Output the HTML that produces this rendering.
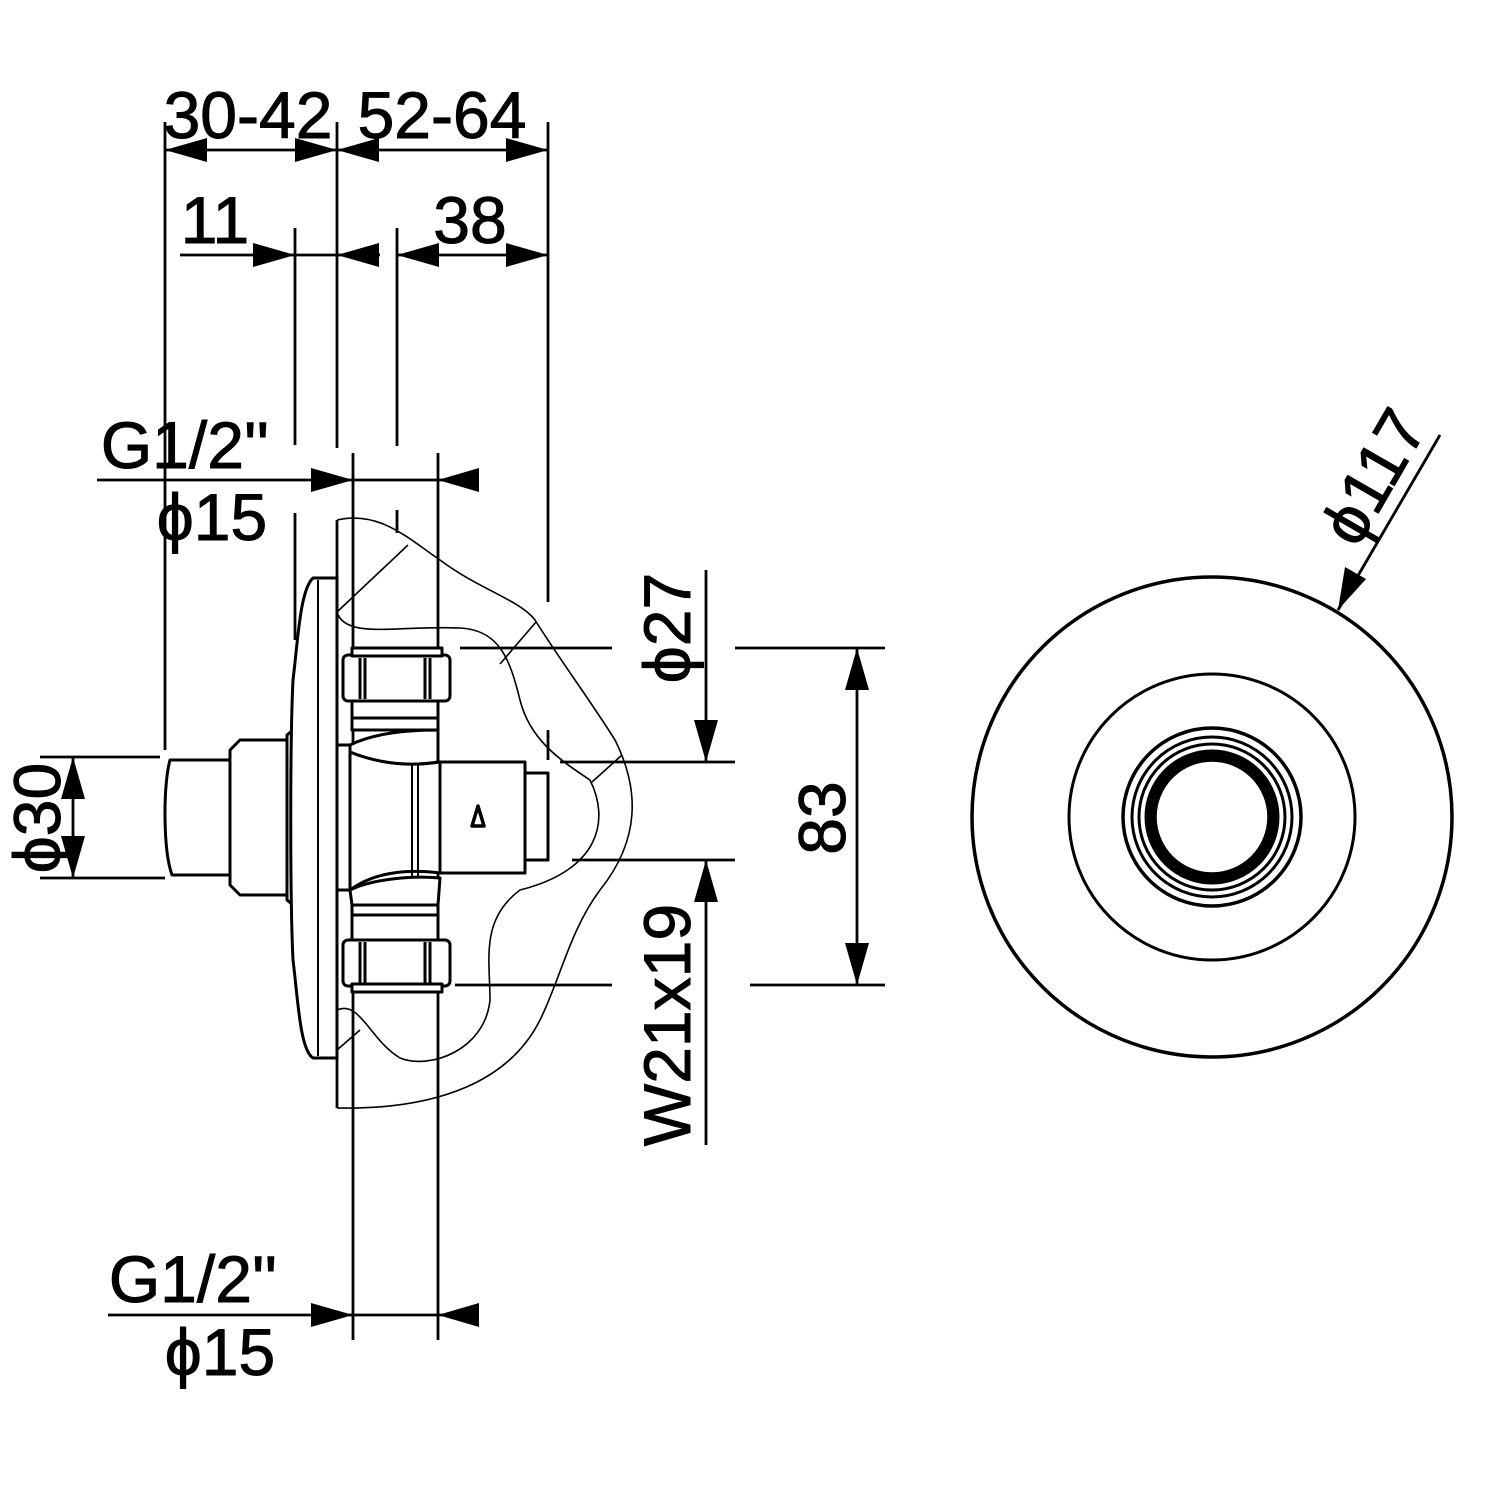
<!DOCTYPE html>
<html><head><meta charset="utf-8"><style>
html,body{margin:0;padding:0;background:#fff;}
svg{display:block;}
text{font-family:"Liberation Sans",sans-serif;font-size:66px;fill:#000;stroke:#000;stroke-width:1;}
</style></head><body>
<svg width="1500" height="1500" viewBox="0 0 1500 1500" xmlns="http://www.w3.org/2000/svg">
<g stroke="#000" stroke-width="2.8" fill="none">
<line x1="165" y1="122" x2="165" y2="750"/>
<line x1="337" y1="122" x2="337" y2="448"/>
<line x1="548" y1="122" x2="548" y2="602"/>
<line x1="295" y1="228" x2="295" y2="445"/>
<line x1="295" y1="513" x2="295" y2="640"/>
<line x1="397" y1="228" x2="397" y2="446"/>
<line x1="397" y1="510" x2="397" y2="533"/>
<line x1="165" y1="150" x2="548" y2="150"/>
<line x1="180" y1="255" x2="380" y2="255"/>
<line x1="397" y1="255" x2="548" y2="255"/>
<line x1="97" y1="480" x2="478" y2="480"/>
<line x1="353" y1="453" x2="353" y2="1340"/>
<line x1="438" y1="453" x2="438" y2="1340"/>
<line x1="108" y1="1315" x2="478" y2="1315"/>
<line x1="40" y1="757" x2="160" y2="757"/>
<line x1="40" y1="878" x2="165" y2="878"/>
<line x1="73" y1="757" x2="73" y2="878"/>
<line x1="460" y1="648" x2="612" y2="648"/>
<line x1="735" y1="648" x2="885" y2="648"/>
<line x1="560" y1="762" x2="735" y2="762"/>
<line x1="572" y1="860" x2="735" y2="860"/>
<line x1="455" y1="985" x2="612" y2="985"/>
<line x1="750" y1="985" x2="885" y2="985"/>
<line x1="706" y1="570" x2="706" y2="762"/>
<line x1="706" y1="860" x2="706" y2="1145"/>
<line x1="857" y1="648" x2="857" y2="985"/>
<line x1="548" y1="730" x2="548" y2="760"/>
<line x1="1440" y1="435" x2="1338" y2="610"/>
<line x1="337" y1="520" x2="337" y2="1108"/>
</g>
<g stroke="#000" stroke-width="1.6" fill="none">
<path d="M337,520 C380,510 410,540 440,560 C480,590 520,600 535,620 C560,660 590,700 615,740 C640,790 640,840 600,890 C570,930 560,980 540,1020 C510,1080 440,1110 337,1108"/>
<path d="M337,612 C345,640 400,625 460,628 C500,630 510,660 520,700 C530,740 560,760 590,780 C610,820 600,870 520,890 C480,920 490,960 490,1000 C485,1050 430,1070 400,1058 C370,1040 360,1000 337,1010"/>
<line x1="337" y1="612" x2="408" y2="545"/>
<line x1="500" y1="664" x2="536" y2="622"/>
<line x1="592" y1="782" x2="622" y2="755"/>
<line x1="337" y1="1050" x2="360" y2="1030"/>
</g>
<g stroke="#000" stroke-width="3" fill="#fff" stroke-linejoin="round">
<path d="M170,760 L230,760 L230,875 L172,875 C163,850 163,785 170,760 Z"/>
<path d="M230,750 L240,740 L287,740 L287,895 L240,895 L230,885 Z"/>
<path d="M287,735 L293,730 L297,730 L297,905 L293,905 L287,900 Z"/>
<path d="M313,578 L337,578 L337,1058 L313,1058 C300,1050 298,1000 293,960 C290,900 290,740 293,680 C298,640 300,590 313,578 Z"/>
<line x1="318" y1="580" x2="318" y2="1056" stroke-width="2"/>
<rect x="337" y="745" width="13" height="145"/>
<rect x="352" y="700" width="86" height="30"/>
<rect x="352" y="905" width="86" height="35"/>
<line x1="352" y1="718" x2="438" y2="718"/>
<line x1="352" y1="915" x2="438" y2="915"/>
<path d="M350,752 C370,760 400,768 440,762 L440,873 C400,868 370,875 350,890 Z"/>
<path d="M350,745 C370,735 400,730 438,730 L438,762 C400,768 370,760 350,752 Z"/>
<path d="M350,890 C370,880 410,875 440,878 L438,905 L352,905 Z"/>
<line x1="412" y1="765" x2="412" y2="878" stroke-width="2"/>
<line x1="418" y1="765" x2="418" y2="878" stroke-width="2"/>
<rect x="440" y="762" width="85" height="111"/>
<rect x="525" y="773" width="23" height="87"/>
<rect x="343" y="655" width="107" height="46" rx="5"/>
<rect x="352" y="648" width="90" height="8"/>
<line x1="360" y1="658" x2="360" y2="699"/><line x1="365" y1="658" x2="365" y2="699"/>
<line x1="425" y1="658" x2="425" y2="699"/><line x1="430" y1="658" x2="430" y2="699"/>
<rect x="343" y="940" width="107" height="46" rx="5"/>
<rect x="352" y="984" width="90" height="8"/>
<line x1="360" y1="942" x2="360" y2="984"/><line x1="365" y1="942" x2="365" y2="984"/>
<line x1="425" y1="942" x2="425" y2="984"/><line x1="430" y1="942" x2="430" y2="984"/>
<path d="M478,806 L484,826 L472,826 Z" stroke-width="3.5"/>
</g>
<g fill="#000">
<path d="M165,150 L207,138 L207,162 Z"/>
<path d="M337,150 L295,138 L295,162 Z"/>
<path d="M337,150 L379,138 L379,162 Z"/>
<path d="M548,150 L506,138 L506,162 Z"/>
<path d="M295,255 L253,243 L253,267 Z"/>
<path d="M337,255 L379,243 L379,267 Z"/>
<path d="M397,255 L439,243 L439,267 Z"/>
<path d="M548,255 L506,243 L506,267 Z"/>
<path d="M353,480 L311,468 L311,492 Z"/>
<path d="M438,480 L479,468 L479,492 Z"/>
<path d="M353,1315 L311,1303 L311,1327 Z"/>
<path d="M438,1315 L479,1303 L479,1327 Z"/>
<path d="M73,757 L61,799 L85,799 Z"/>
<path d="M73,878 L61,836 L85,836 Z"/>
<path d="M706,762 L694,720 L718,720 Z"/>
<path d="M706,860 L694,902 L718,902 Z"/>
<path d="M857,648 L845,690 L869,690 Z"/>
<path d="M857,985 L845,943 L869,943 Z"/>
<path d="M1338,610 L1345,567 L1366,579 Z"/>
</g>
<g stroke="#000" fill="none">
<circle cx="1212" cy="817" r="240" stroke-width="3.5"/>
<circle cx="1212" cy="817" r="143" stroke-width="3"/>
<circle cx="1212" cy="817" r="89" stroke-width="3.5"/>
<circle cx="1212" cy="817" r="80" stroke-width="3"/>
<circle cx="1212" cy="817" r="73" stroke-width="3"/>
<circle cx="1212" cy="817" r="62" stroke-width="11"/>
<circle cx="1212" cy="817" r="56" stroke-width="1.5"/>
</g>
<text x="248" y="138" text-anchor="middle">30-42</text>
<text x="442" y="138" text-anchor="middle">52-64</text>
<text x="215" y="243" text-anchor="middle">11</text>
<text x="470" y="243" text-anchor="middle">38</text>
<text x="185" y="468" text-anchor="middle">G1/2''</text>
<text x="212" y="540" text-anchor="middle">ϕ15</text>
<text x="193" y="1302" text-anchor="middle">G1/2''</text>
<text x="220" y="1375" text-anchor="middle">ϕ15</text>
<text transform="translate(60,818) rotate(-90)" text-anchor="middle">ϕ30</text>
<text transform="translate(690,628) rotate(-90)" text-anchor="middle">ϕ27</text>
<text transform="translate(690,1025) rotate(-90)" text-anchor="middle">W21x19</text>
<text transform="translate(845,818) rotate(-90)" text-anchor="middle">83</text>
<text transform="translate(1393,488) rotate(-60)" text-anchor="middle">ϕ117</text>
</svg>
</body></html>
